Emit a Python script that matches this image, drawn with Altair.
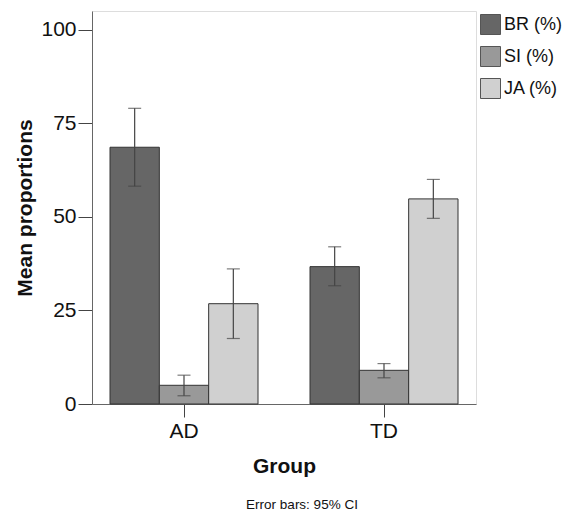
import altair as alt
import pandas as pd

groups = ["AD", "AD", "AD", "TD", "TD", "TD"]
series = ["BR (%)", "SI (%)", "JA (%)", "BR (%)", "SI (%)", "JA (%)"]
means = [68.6, 5.0, 26.8, 36.7, 9.0, 54.8]
upper = [79.0, 7.7, 36.1, 42.0, 10.8, 60.0]
lower = [58.2, 2.2, 17.5, 31.6, 7.0, 49.6]

series_order = ["BR (%)", "SI (%)", "JA (%)"]
series_colors = ["#666666", "#999999", "#d0d0d0"]

df = pd.DataFrame({"Group": groups, "Series": series, "Mean": means,
                   "Upper": upper, "Lower": lower})

FONT = "Liberation Sans"

x = alt.X("Group:N", sort=["AD", "TD"],
          scale=alt.Scale(paddingInner=0.26, paddingOuter=0.09),
          axis=alt.Axis(title="Group", labelAngle=0, labelFontSize=21,
                        titleFontSize=21, titleFontWeight="bold",
                        tickSize=13, labelPadding=3, titlePadding=14,
                        domainColor="#666666", tickColor="#444444",
                        labelColor="#111111", titleColor="#111111"))
xoff = alt.XOffset("Series:N", sort=series_order,
                   scale=alt.Scale(paddingInner=0, paddingOuter=0))

y_scale = alt.Scale(domain=[0, 105], nice=False)

bars = alt.Chart(df).mark_bar(stroke="#333333", strokeWidth=1).encode(
    x=x,
    xOffset=xoff,
    y=alt.Y("Mean:Q", scale=y_scale,
            axis=alt.Axis(title="Mean proportions", values=[0, 25, 50, 75, 100],
                          labelFontSize=21, titleFontSize=21, titleFontWeight="bold",
                          tickSize=14, labelPadding=2, titlePadding=5, grid=False,
                          domainColor="#666666", tickColor="#444444",
                          labelColor="#111111", titleColor="#111111")),
    color=alt.Color("Series:N", sort=series_order,
                    scale=alt.Scale(domain=series_order, range=series_colors),
                    legend=alt.Legend(title=None, orient="none", legendX=388, legendY=3,
                                      symbolType="square", symbolSize=400,
                                      symbolStrokeColor="#555555", symbolStrokeWidth=1,
                                      labelFontSize=18, labelColor="#111111",
                                      rowPadding=7, labelOffset=3)),
)

rules = alt.Chart(df).mark_rule(color="#444444", strokeWidth=1.2).encode(
    x=x, xOffset=xoff,
    y=alt.Y("Upper:Q", scale=y_scale),
    y2="Lower:Q",
)
cap_hi = alt.Chart(df).mark_tick(color="#444444", orient="horizontal",
                                 size=13, thickness=1.2).encode(
    x=x, xOffset=xoff, y=alt.Y("Upper:Q", scale=y_scale))
cap_lo = alt.Chart(df).mark_tick(color="#444444", orient="horizontal",
                                 size=13, thickness=1.2).encode(
    x=x, xOffset=xoff, y=alt.Y("Lower:Q", scale=y_scale))

chart = alt.layer(bars, rules, cap_hi, cap_lo).properties(
    width=384, height=393,
    title=alt.TitleParams("Error bars: 95% CI", orient="bottom", fontSize=13.5,
                          fontWeight="normal", color="#111111", dx=18, offset=22),
    autosize=alt.AutoSizeParams(type="none"),
    padding={"left": 84, "top": 3, "right": 90, "bottom": 110},
).configure_view(
    fill="#f0f0f0", stroke="#888888", strokeWidth=1
).configure(font=FONT)

chart.save("out.html", embed_options={"renderer": "svg", "actions": False})
